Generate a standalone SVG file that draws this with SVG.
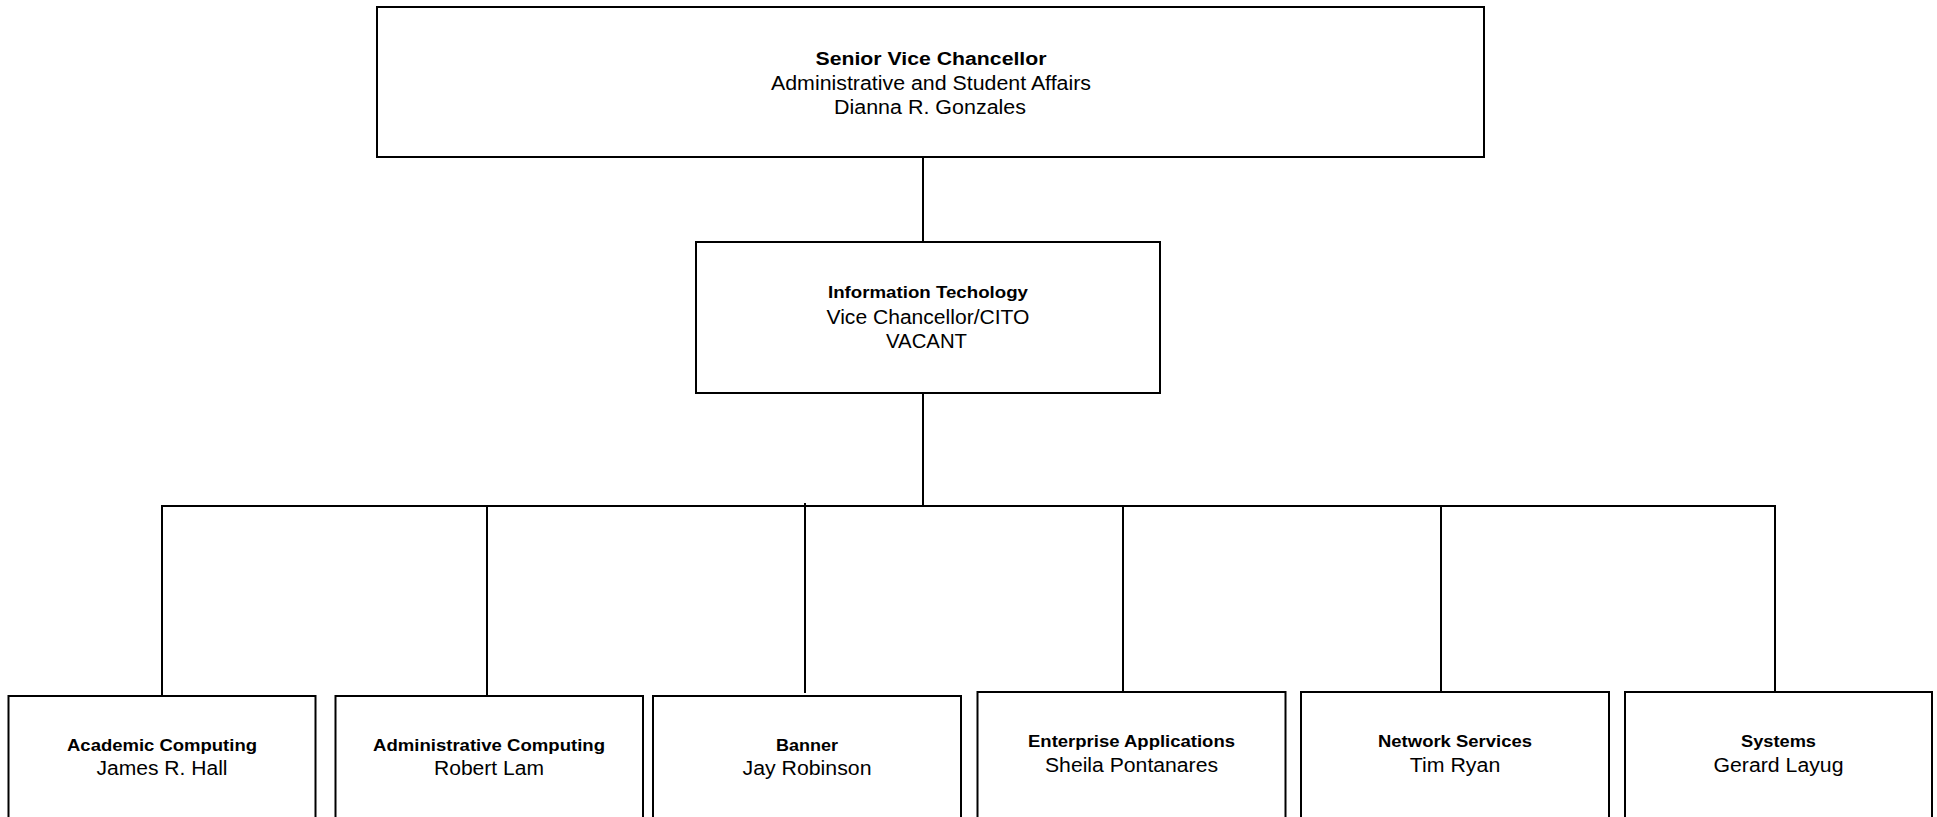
<svg xmlns="http://www.w3.org/2000/svg" width="1937" height="817" viewBox="0 0 1937 817">
<style>
.box{fill:#fff;stroke:#000;stroke-width:2}
.conn line{stroke:#000;stroke-width:2;fill:none}
text{font-family:"Liberation Sans",Arial,sans-serif;fill:#000;text-anchor:middle}
.b{font-weight:bold;font-size:17px}
.bt{font-weight:bold;font-size:18px}
.r{font-size:20px}
</style>
<rect width="1937" height="817" fill="#fff"/>
<g id="connectors" class="conn">
<line x1="923" y1="157" x2="923" y2="242"/>
<line x1="923" y1="393" x2="923" y2="506"/>
<line x1="161" y1="506" x2="1776" y2="506"/>
<line x1="162" y1="506" x2="162" y2="696"/>
<line x1="487" y1="506" x2="487" y2="696"/>
<line x1="805" y1="503" x2="805" y2="693"/>
<line x1="1123" y1="506" x2="1123" y2="692"/>
<line x1="1441" y1="506" x2="1441" y2="695"/>
<line x1="1775" y1="506" x2="1775" y2="695"/>
</g>
<g id="senior-vice-chancellor">
<rect class="box" x="377" y="7" width="1107" height="150"/>
<text class="bt" x="931" y="65" textLength="231" lengthAdjust="spacingAndGlyphs">Senior Vice Chancellor</text>
<text class="r" x="931" y="89.5" textLength="320" lengthAdjust="spacingAndGlyphs">Administrative and Student Affairs</text>
<text class="r" x="930" y="114" textLength="192" lengthAdjust="spacingAndGlyphs">Dianna R. Gonzales</text>
</g>
<g id="information-technology">
<rect class="box" x="696" y="242" width="464" height="151"/>
<text class="b" x="928" y="298" textLength="200" lengthAdjust="spacingAndGlyphs">Information Techology</text>
<text class="r" x="928" y="323.5" textLength="203" lengthAdjust="spacingAndGlyphs">Vice Chancellor/CITO</text>
<text class="r" x="926.5" y="347.5" textLength="81" lengthAdjust="spacingAndGlyphs">VACANT</text>
</g>
<g id="academic-computing">
<rect class="box" x="8.5" y="696" width="307" height="140"/>
<text class="b" x="162" y="751" textLength="190" lengthAdjust="spacingAndGlyphs">Academic Computing</text>
<text class="r" x="162" y="775" textLength="131" lengthAdjust="spacingAndGlyphs">James R. Hall</text>
</g>
<g id="administrative-computing">
<rect class="box" x="335.5" y="696" width="307.5" height="140"/>
<text class="b" x="489" y="751" textLength="232" lengthAdjust="spacingAndGlyphs">Administrative Computing</text>
<text class="r" x="489" y="775" textLength="110" lengthAdjust="spacingAndGlyphs">Robert Lam</text>
</g>
<g id="banner">
<rect class="box" x="653" y="696" width="308" height="140"/>
<text class="b" x="807" y="751" textLength="62" lengthAdjust="spacingAndGlyphs">Banner</text>
<text class="r" x="807" y="775" textLength="129" lengthAdjust="spacingAndGlyphs">Jay Robinson</text>
</g>
<g id="enterprise-applications">
<rect class="box" x="977.5" y="692" width="308" height="140"/>
<text class="b" x="1131.5" y="747" textLength="207" lengthAdjust="spacingAndGlyphs">Enterprise Applications</text>
<text class="r" x="1131.5" y="772" textLength="173" lengthAdjust="spacingAndGlyphs">Sheila Pontanares</text>
</g>
<g id="network-services">
<rect class="box" x="1301" y="692" width="308" height="140"/>
<text class="b" x="1455" y="747" textLength="154" lengthAdjust="spacingAndGlyphs">Network Services</text>
<text class="r" x="1455" y="772" textLength="90.5" lengthAdjust="spacingAndGlyphs">Tim Ryan</text>
</g>
<g id="systems">
<rect class="box" x="1625" y="692" width="307" height="140"/>
<text class="b" x="1778.5" y="747" textLength="75" lengthAdjust="spacingAndGlyphs">Systems</text>
<text class="r" x="1778.5" y="772" textLength="130" lengthAdjust="spacingAndGlyphs">Gerard Layug</text>
</g>
</svg>
